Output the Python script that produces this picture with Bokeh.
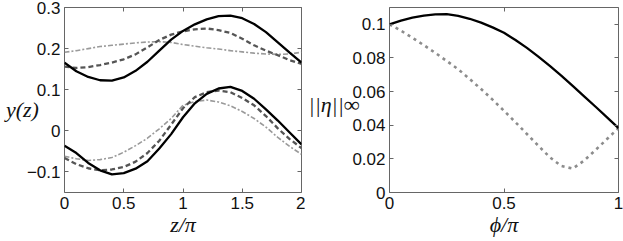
from bokeh.plotting import figure
from bokeh.layouts import row
from bokeh.models import FixedTicker, LinearAxis, Range1d, CustomJSTickFormatter
from bokeh.embed import file_html
from bokeh.resources import INLINE

# ---------------- data ----------------
z = [0.0, 0.1, 0.2, 0.3, 0.4, 0.5, 0.6, 0.7, 0.8, 0.9, 1.0,
     1.1, 1.2, 1.3, 1.4, 1.5, 1.6, 1.7, 1.8, 1.9, 2.0]

upper_solid = [0.166, 0.145, 0.131, 0.123, 0.122, 0.130, 0.146, 0.168, 0.195, 0.222, 0.243,
               0.259, 0.271, 0.279, 0.280, 0.274, 0.260, 0.240, 0.215, 0.190, 0.166]
upper_dashed = [0.156, 0.153, 0.155, 0.160, 0.166, 0.174, 0.186, 0.203, 0.221, 0.234, 0.242,
                0.247, 0.249, 0.245, 0.238, 0.224, 0.208, 0.195, 0.184, 0.172, 0.163]
upper_dashdot = [0.191, 0.195, 0.200, 0.205, 0.208, 0.211, 0.214, 0.216, 0.217, 0.215, 0.210,
                 0.206, 0.202, 0.199, 0.195, 0.192, 0.189, 0.187, 0.186, 0.187, 0.191]

lower_solid = [-0.036, -0.054, -0.078, -0.096, -0.106, -0.103, -0.092, -0.074, -0.043, -0.008, 0.033,
               0.067, 0.090, 0.103, 0.107, 0.097, 0.078, 0.052, 0.025, -0.004, -0.033]
lower_dashed = [-0.066, -0.081, -0.091, -0.096, -0.094, -0.088, -0.075, -0.054, -0.024, 0.015, 0.055,
                0.082, 0.094, 0.098, 0.094, 0.080, 0.062, 0.036, 0.006, -0.020, -0.042]
lower_dashdot = [-0.062, -0.068, -0.072, -0.070, -0.065, -0.052, -0.036, -0.018, 0.005, 0.030, 0.062,
                 0.071, 0.075, 0.070, 0.061, 0.047, 0.030, 0.009, -0.016, -0.038, -0.057]

phi = [0.0, 0.05, 0.1, 0.15, 0.2, 0.25, 0.3, 0.35, 0.4, 0.45, 0.5,
       0.55, 0.6, 0.65, 0.7, 0.75, 0.8, 0.85, 0.9, 0.95, 1.0]
eta_solid = [0.100, 0.1022, 0.104, 0.1052, 0.1059, 0.106, 0.105, 0.1033, 0.101, 0.0982, 0.095,
             0.0907, 0.086, 0.0808, 0.0753, 0.0695, 0.0634, 0.0572, 0.051, 0.0447, 0.0383]
eta_dotted = [0.100, 0.0962, 0.092, 0.0876, 0.083, 0.0782, 0.0733, 0.0675, 0.0615, 0.0552, 0.0486,
              0.0418, 0.0348, 0.0278, 0.021, 0.0158, 0.0142, 0.019, 0.0253, 0.0318, 0.0383]

left_xticks = [0, 0.5, 1, 1.5, 2]
left_xlabels = ["0", "0.5", "1", "1.5", "2"]
left_yticks = [-0.1, 0, 0.1, 0.2, 0.3]
left_ylabels = ["\u22120.1", "0", "0.1", "0.2", "0.3"]
right_xticks = [0, 0.5, 1]
right_xlabels = ["0", "0.5", "1"]
right_yticks = [0, 0.02, 0.04, 0.06, 0.08, 0.1]
right_ylabels = ["0", "0.02", "0.04", "0.06", "0.08", "0.1"]

FRAME = "#666666"
TICKFONT = "Liberation Sans"
MATHFONT = "Liberation Serif"


def style(p, xt, xl, yt, yl, xlabel, ylabel, ylabel_standoff, ylabel_lh):
    p.grid.visible = False
    p.outline_line_color = FRAME
    p.outline_line_width = 1
    p.background_fill_color = "white"
    p.border_fill_color = "white"
    for ax, ticks, labels in ((p.xaxis[0], xt, xl), (p.yaxis[0], yt, yl)):
        ax.ticker = FixedTicker(ticks=ticks)
        ax.major_label_overrides = {t: s for t, s in zip(ticks, labels)}
        ax.axis_line_color = None
        ax.major_tick_line_color = FRAME
        ax.major_tick_in = 4
        ax.major_tick_out = 0
        ax.minor_tick_line_color = None
        ax.major_label_text_font = TICKFONT
        ax.major_label_text_font_size = "17px"
        ax.major_label_text_color = "#111111"
        ax.major_label_standoff = 4
        ax.axis_label_text_font = MATHFONT
        ax.axis_label_text_font_style = "italic"
        ax.axis_label_text_font_size = "22px"
        ax.axis_label_text_color = "#111111"
    p.xaxis[0].axis_label = xlabel
    p.xaxis[0].axis_label_standoff = 0
    p.yaxis[0].axis_label = ylabel
    p.yaxis[0].axis_label_orientation = "horizontal"
    p.yaxis[0].axis_label_standoff = ylabel_standoff
    p.yaxis[0].axis_label_text_line_height = ylabel_lh
    # mirrored tick marks on top and right
    for loc, ticks in (("above", xt), ("right", yt)):
        ax = LinearAxis(ticker=FixedTicker(ticks=ticks),
                        formatter=CustomJSTickFormatter(code="return '';"),
                        axis_line_color=None, major_tick_line_color=FRAME,
                        major_tick_in=4, major_tick_out=0,
                        minor_tick_line_color=None,
                        major_label_text_font_size="0px", major_label_standoff=0)
        p.add_layout(ax, loc)


p1 = figure(width=305, height=241, x_range=Range1d(0, 2), y_range=Range1d(-0.15, 0.3),
            output_backend="svg", toolbar_location=None,
            min_border_left=64, min_border_right=4, min_border_top=7, min_border_bottom=49)
style(p1, left_xticks, left_xlabels, left_yticks, left_ylabels,
      "z/\u03c0", "\ny(z)", -15, 0.76)

for ys in (upper_dashdot, lower_dashdot):
    p1.line(z, ys, line_color="#9a9a9a", line_width=1.6, line_dash="5 2 2 2")
for ys in (upper_dashed, lower_dashed):
    p1.line(z, ys, line_color="#555555", line_width=2.3, line_dash="5 3")
for ys in (upper_solid, lower_solid):
    p1.line(z, ys, line_color="black", line_width=2.3)

p2 = figure(width=318, height=241, x_range=Range1d(0, 1), y_range=Range1d(0, 0.11),
            output_backend="svg", toolbar_location=None,
            min_border_left=80, min_border_right=5, min_border_top=7, min_border_bottom=49)
style(p2, right_xticks, right_xlabels, right_yticks, right_ylabels,
      "\u03d5/\u03c0", "\n||\u03b7||\u221e", -10, 0.36)

p2.line(phi, eta_dotted, line_color="#8c8c8c", line_width=2.6, line_dash="3 4")
p2.line(phi, eta_solid, line_color="black", line_width=2.3)

layout = row(p1, p2)
open("out.html", "w").write(file_html(layout, INLINE))
